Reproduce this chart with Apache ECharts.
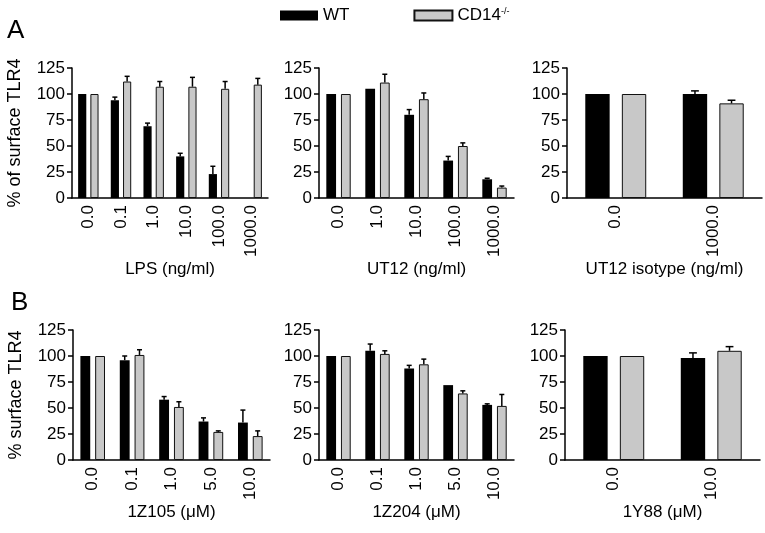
<!DOCTYPE html>
<html>
<head>
<meta charset="utf-8">
<script src="https://cdn.jsdelivr.net/npm/echarts@6/dist/echarts.min.js"></script>
<style>
  html, body { margin: 0; padding: 0; background: #fff; }
  #chart { width: 765px; height: 533px; }
</style>
</head>
<body>
<div id="chart"></div>
<script>
// values (% of surface TLR4), error = upper SEM only
const lpsCats = ['0.0', '0.1', '1.0', '10.0', '100.0', '1000.0']
const lpsWT = [100, 94, 69, 40, 23, null]
const lpsWTErr = [0, 3, 3, 3, 7.5, 0]
const lpsKO = [100, 112, 107, 107, 105, 109]
const lpsKOErr = [0, 5, 5, 9, 7, 6]

const ut12Cats = ['0.0', '1.0', '10.0', '100.0', '1000.0']
const ut12WT = [100, 105, 80, 36, 18]
const ut12WTErr = [0, 0, 5, 4, 1]
const ut12KO = [100, 111, 95, 50, 10]
const ut12KOErr = [0, 8, 6, 3, 1.5]

const isoCats = ['0.0', '1000.0']
const isoWT = [100, 100]
const isoWTErr = [0, 3]
const isoKO = [100, 91]
const isoKOErr = [0, 3]

const z105Cats = ['0.0', '0.1', '1.0', '5.0', '10.0']
const z105WT = [100, 96, 58, 37, 36]
const z105WTErr = [0, 4, 3, 3.5, 12]
const z105KO = [100, 101, 51, 27, 23]
const z105KOErr = [0, 5, 5, 1, 5]

const z204Cats = ['0.0', '0.1', '1.0', '5.0', '10.0']
const z204WT = [100, 105, 88, 72, 53]
const z204WTErr = [0, 6.5, 3, 0, 1]
const z204KO = [100, 102, 92, 64, 52]
const z204KOErr = [0, 3, 5, 2.5, 11]

const y88Cats = ['0.0', '10.0']
const y88WT = [100, 98]
const y88WTErr = [0, 5]
const y88KO = [100, 105]
const y88KOErr = [0, 4]

const yTicks = { min: 0, max: 125, interval: 25 }

const FONT = 'Liberation Sans, Arial, sans-serif'
const panels = [
  { cats: lpsCats, wt: lpsWT, wtErr: lpsWTErr, ko: lpsKO, koErr: lpsKOErr, xName: 'LPS (ng/ml)', yName: '% of surface TLR4', grid: { left: 72, top: 68, width: 196, height: 130 }, nameGap: 60 },
  { cats: ut12Cats, wt: ut12WT, wtErr: ut12WTErr, ko: ut12KO, koErr: ut12KOErr, xName: 'UT12 (ng/ml)', yName: '', grid: { left: 319, top: 68, width: 195, height: 130 }, nameGap: 60 },
  { cats: isoCats, wt: isoWT, wtErr: isoWTErr, ko: isoKO, koErr: isoKOErr, xName: 'UT12 isotype (ng/ml)', yName: '', grid: { left: 567, top: 68, width: 195, height: 130 }, nameGap: 60 },
  { cats: z105Cats, wt: z105WT, wtErr: z105WTErr, ko: z105KO, koErr: z105KOErr, xName: '1Z105 (μM)', yName: '% surface TLR4', grid: { left: 73, top: 330, width: 197, height: 130 }, nameGap: 37 },
  { cats: z204Cats, wt: z204WT, wtErr: z204WTErr, ko: z204KO, koErr: z204KOErr, xName: '1Z204 (μM)', yName: '', grid: { left: 319, top: 330, width: 195, height: 130 }, nameGap: 37 },
  { cats: y88Cats, wt: y88WT, wtErr: y88WTErr, ko: y88KO, koErr: y88KOErr, xName: '1Y88 (μM)', yName: '', grid: { left: 565, top: 330, width: 195, height: 130 }, nameGap: 37 }
]

// bar layout: barWidth 25%, barGap 50% -> centres at -/+ 0.1875 of the band
function errRender (offset) {
  return function (params, api) {
    const err = api.value(2)
    if (!err) return null
    const base = api.coord([api.value(0), api.value(1)])
    const top = api.coord([api.value(0), api.value(1) + err])
    const band = api.size([1, 0])[0]
    const x = base[0] + offset * band
    const cap = Math.max(2.5, band * 0.04)
    const style = { stroke: '#000', lineWidth: 1.5 }
    return {
      type: 'group',
      children: [
        { type: 'line', shape: { x1: x, y1: base[1], x2: x, y2: top[1] }, style: style },
        { type: 'line', shape: { x1: x - cap, y1: top[1], x2: x + cap, y2: top[1] }, style: style }
      ]
    }
  }
}

const grids = []
const xAxes = []
const yAxes = []
const series = []
panels.forEach((p, i) => {
  grids.push(p.grid)
  xAxes.push({
    type: 'category',
    gridIndex: i,
    data: p.cats,
    name: p.xName,
    nameLocation: 'middle',
    nameGap: p.nameGap,
    nameTextStyle: { fontSize: 17, color: '#000', fontFamily: FONT },
    axisLine: { lineStyle: { color: '#000', width: 1.5 } },
    axisTick: { alignWithLabel: true, interval: 0, length: 5, lineStyle: { color: '#000', width: 1.5 } },
    axisLabel: { rotate: 90, interval: 0, fontSize: 17, color: '#000', margin: 7, fontFamily: FONT }
  })
  yAxes.push({
    type: 'value',
    gridIndex: i,
    min: yTicks.min,
    max: yTicks.max,
    interval: yTicks.interval,
    name: p.yName,
    nameLocation: 'middle',
    nameGap: 48,
    nameTextStyle: { fontSize: 18, color: '#000', fontFamily: FONT },
    axisLine: { show: true, lineStyle: { color: '#000', width: 1.5 } },
    axisTick: { show: true, length: 5, lineStyle: { color: '#000', width: 1.5 } },
    axisLabel: { fontSize: 17, color: '#000', margin: 7, fontFamily: FONT },
    splitLine: { show: false }
  })
  series.push({
    type: 'bar', name: 'WT', xAxisIndex: i, yAxisIndex: i,
    data: p.wt, barWidth: '25%', barGap: '50%',
    itemStyle: { color: '#000' }
  })
  series.push({
    type: 'bar', name: 'CD14', xAxisIndex: i, yAxisIndex: i,
    data: p.ko, barWidth: '25%', barGap: '50%',
    itemStyle: { color: '#c8c8c8', borderColor: '#111', borderWidth: 1 }
  })
  series.push({
    type: 'custom', name: 'errWT' + i, xAxisIndex: i, yAxisIndex: i, z: 5,
    renderItem: errRender(-0.1875),
    data: p.wt.map((v, k) => [k, v == null ? 0 : v, p.wtErr[k]])
  })
  series.push({
    type: 'custom', name: 'errKO' + i, xAxisIndex: i, yAxisIndex: i, z: 5,
    renderItem: errRender(0.1875),
    data: p.ko.map((v, k) => [k, v, p.koErr[k]])
  })
})

const chart = echarts.init(document.getElementById('chart'))
chart.setOption({
  animation: false,
  textStyle: { fontFamily: FONT },
  title: [
    { text: 'A', left: 2, top: 13, textStyle: { fontSize: 26, fontWeight: 'normal', color: '#000', fontFamily: FONT } },
    { text: 'B', left: 6, top: 285, textStyle: { fontSize: 26, fontWeight: 'normal', color: '#000', fontFamily: FONT } }
  ],
  legend: {
    data: ['WT', 'CD14'],
    left: 275,
    top: 2,
    icon: 'rect',
    itemWidth: 38,
    itemHeight: 10,
    itemGap: 64,
    selectedMode: false,
    formatter: name => name === 'CD14' ? 'CD14{sup|-/-}' : name,
    textStyle: {
      fontSize: 17,
      color: '#000',
      fontFamily: FONT,
      rich: { sup: { fontSize: 9, verticalAlign: 'bottom', padding: [0, 0, 8, 0], color: '#000', fontFamily: FONT } }
    }
  },
  grid: grids,
  xAxis: xAxes,
  yAxis: yAxes,
  series: series
})
</script>
</body>
</html>
